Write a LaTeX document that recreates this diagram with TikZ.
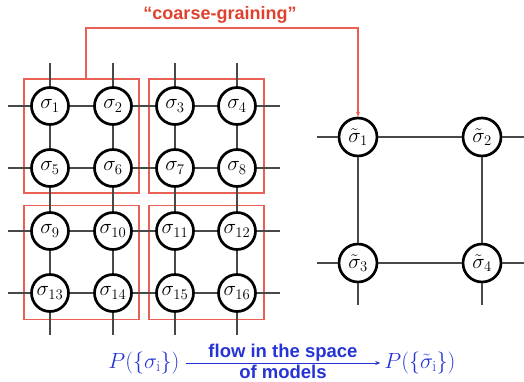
\documentclass[tikz,border=0pt]{standalone}
\usepackage{fix-cm}
\usepackage{fontspec}
\setsansfont{Liberation Sans}
\usetikzlibrary{arrows.meta}
\definecolor{cgred}{RGB}{222,66,46}
\definecolor{boxred}{RGB}{234,96,84}
\definecolor{flowblue}{RGB}{38,52,214}
\definecolor{edgegray}{RGB}{72,72,72}
\begin{document}
\begin{tikzpicture}[x=1pt,y=-1pt,
  spin/.style={circle,draw=black,line width=2.7pt,fill=white,minimum size=37pt,inner sep=0pt,font=\fontsize{21}{24}\selectfont},
  tspin/.style={spin,minimum size=38pt},
  bond/.style={draw=edgegray,line width=1.3pt},
  redbox/.style={draw=boxred,line width=1.1pt,minimum width=115pt,minimum height=114pt,inner sep=0pt},
  cgline/.style={draw=boxred,line width=1.1pt,-{Stealth[length=5pt,width=4pt]}},
  cglabel/.style={text=cgred,font=\fontsize{18}{20}\selectfont\sffamily\bfseries,inner sep=0pt},
  flowmath/.style={text=flowblue,font=\fontsize{22}{26}\selectfont,inner sep=1pt},
  flowlabel/.style={text=flowblue,font=\fontsize{18.5}{20}\selectfont\sffamily\bfseries,inner sep=1.5pt},
  flowarrow/.style={draw=flowblue,line width=1pt,-{Stealth[length=5pt,width=4pt]}}
]
\useasboundingbox (0,0) rectangle (524,381);

% red blocks
\node[redbox] (b1) at (81.5,136) {};
\node[redbox] (b2) at (206.5,136) {};
\node[redbox] (b3) at (81.5,262.5) {};
\node[redbox] (b4) at (206.5,262.5) {};

% original lattice
\foreach \r/\y in {0/106,1/168,2/231,3/293}{
  \foreach \c/\x in {0/50,1/113,2/175,3/237}{
    \pgfmathtruncatemacro\n{4*\r+\c+1}
    \node[spin] (s\n) at (\x,\y) {$\sigma_{\n}$};
  }
  \coordinate (hL\r) at (8,\y);
  \coordinate (hR\r) at (280,\y);
}
\foreach \c/\x in {0/50,1/113,2/175,3/237}{
  \coordinate (vT\c) at (\x,63);
  \coordinate (vB\c) at (\x,335);
}
\draw[bond] (hL0) -- (s1) -- (s2) -- (s3) -- (s4) -- (hR0);
\draw[bond] (hL1) -- (s5) -- (s6) -- (s7) -- (s8) -- (hR1);
\draw[bond] (hL2) -- (s9) -- (s10) -- (s11) -- (s12) -- (hR2);
\draw[bond] (hL3) -- (s13) -- (s14) -- (s15) -- (s16) -- (hR3);
\draw[bond] (vT0) -- (s1) -- (s5) -- (s9) -- (s13) -- (vB0);
\draw[bond] (vT1) -- (s2) -- (s6) -- (s10) -- (s14) -- (vB1);
\draw[bond] (vT2) -- (s3) -- (s7) -- (s11) -- (s15) -- (vB2);
\draw[bond] (vT3) -- (s4) -- (s8) -- (s12) -- (s16) -- (vB3);

% coarse-grained lattice
\node[tspin] (t1) at (358,137) {$\tilde\sigma_1$};
\node[tspin] (t2) at (482,137) {$\tilde\sigma_2$};
\node[tspin] (t3) at (358,263) {$\tilde\sigma_3$};
\node[tspin] (t4) at (482,263) {$\tilde\sigma_4$};
\coordinate (tL1) at (317,137);
\coordinate (tL3) at (317,263);
\coordinate (tR2) at (524,137);
\coordinate (tR4) at (524,263);
\coordinate (tB3) at (358,305);
\coordinate (tB4) at (482,305);
\draw[bond] (tL1) -- (t1) -- (t2) -- (tR2);
\draw[bond] (tL3) -- (t3) -- (t4) -- (tR4);
\draw[bond] (t1) -- (t3) -- (tB3);
\draw[bond] (t2) -- (t4) -- (tB4);

% coarse-graining connector
\coordinate (cg0) at (86,79);
\coordinate (cgA) at (86,28);
\draw[cgline] (cg0) -- (cgA) -| (t1);
\node[cglabel] (cg) at (220,15) {“coarse-graining”};

% flow
\node[flowmath] (P1) at (144,363) {$P(\{\sigma_{\mathrm{i}}\})$};
\node[flowmath] (P2) at (420,363) {$P(\{\tilde\sigma_{\mathrm{i}}\})$};
\draw[flowarrow] ([xshift=5pt]P1.east) -- node[flowlabel,above] {flow in the space} node[flowlabel,below] {of models} ([xshift=-3pt]P2.west);
\end{tikzpicture}
\end{document}
